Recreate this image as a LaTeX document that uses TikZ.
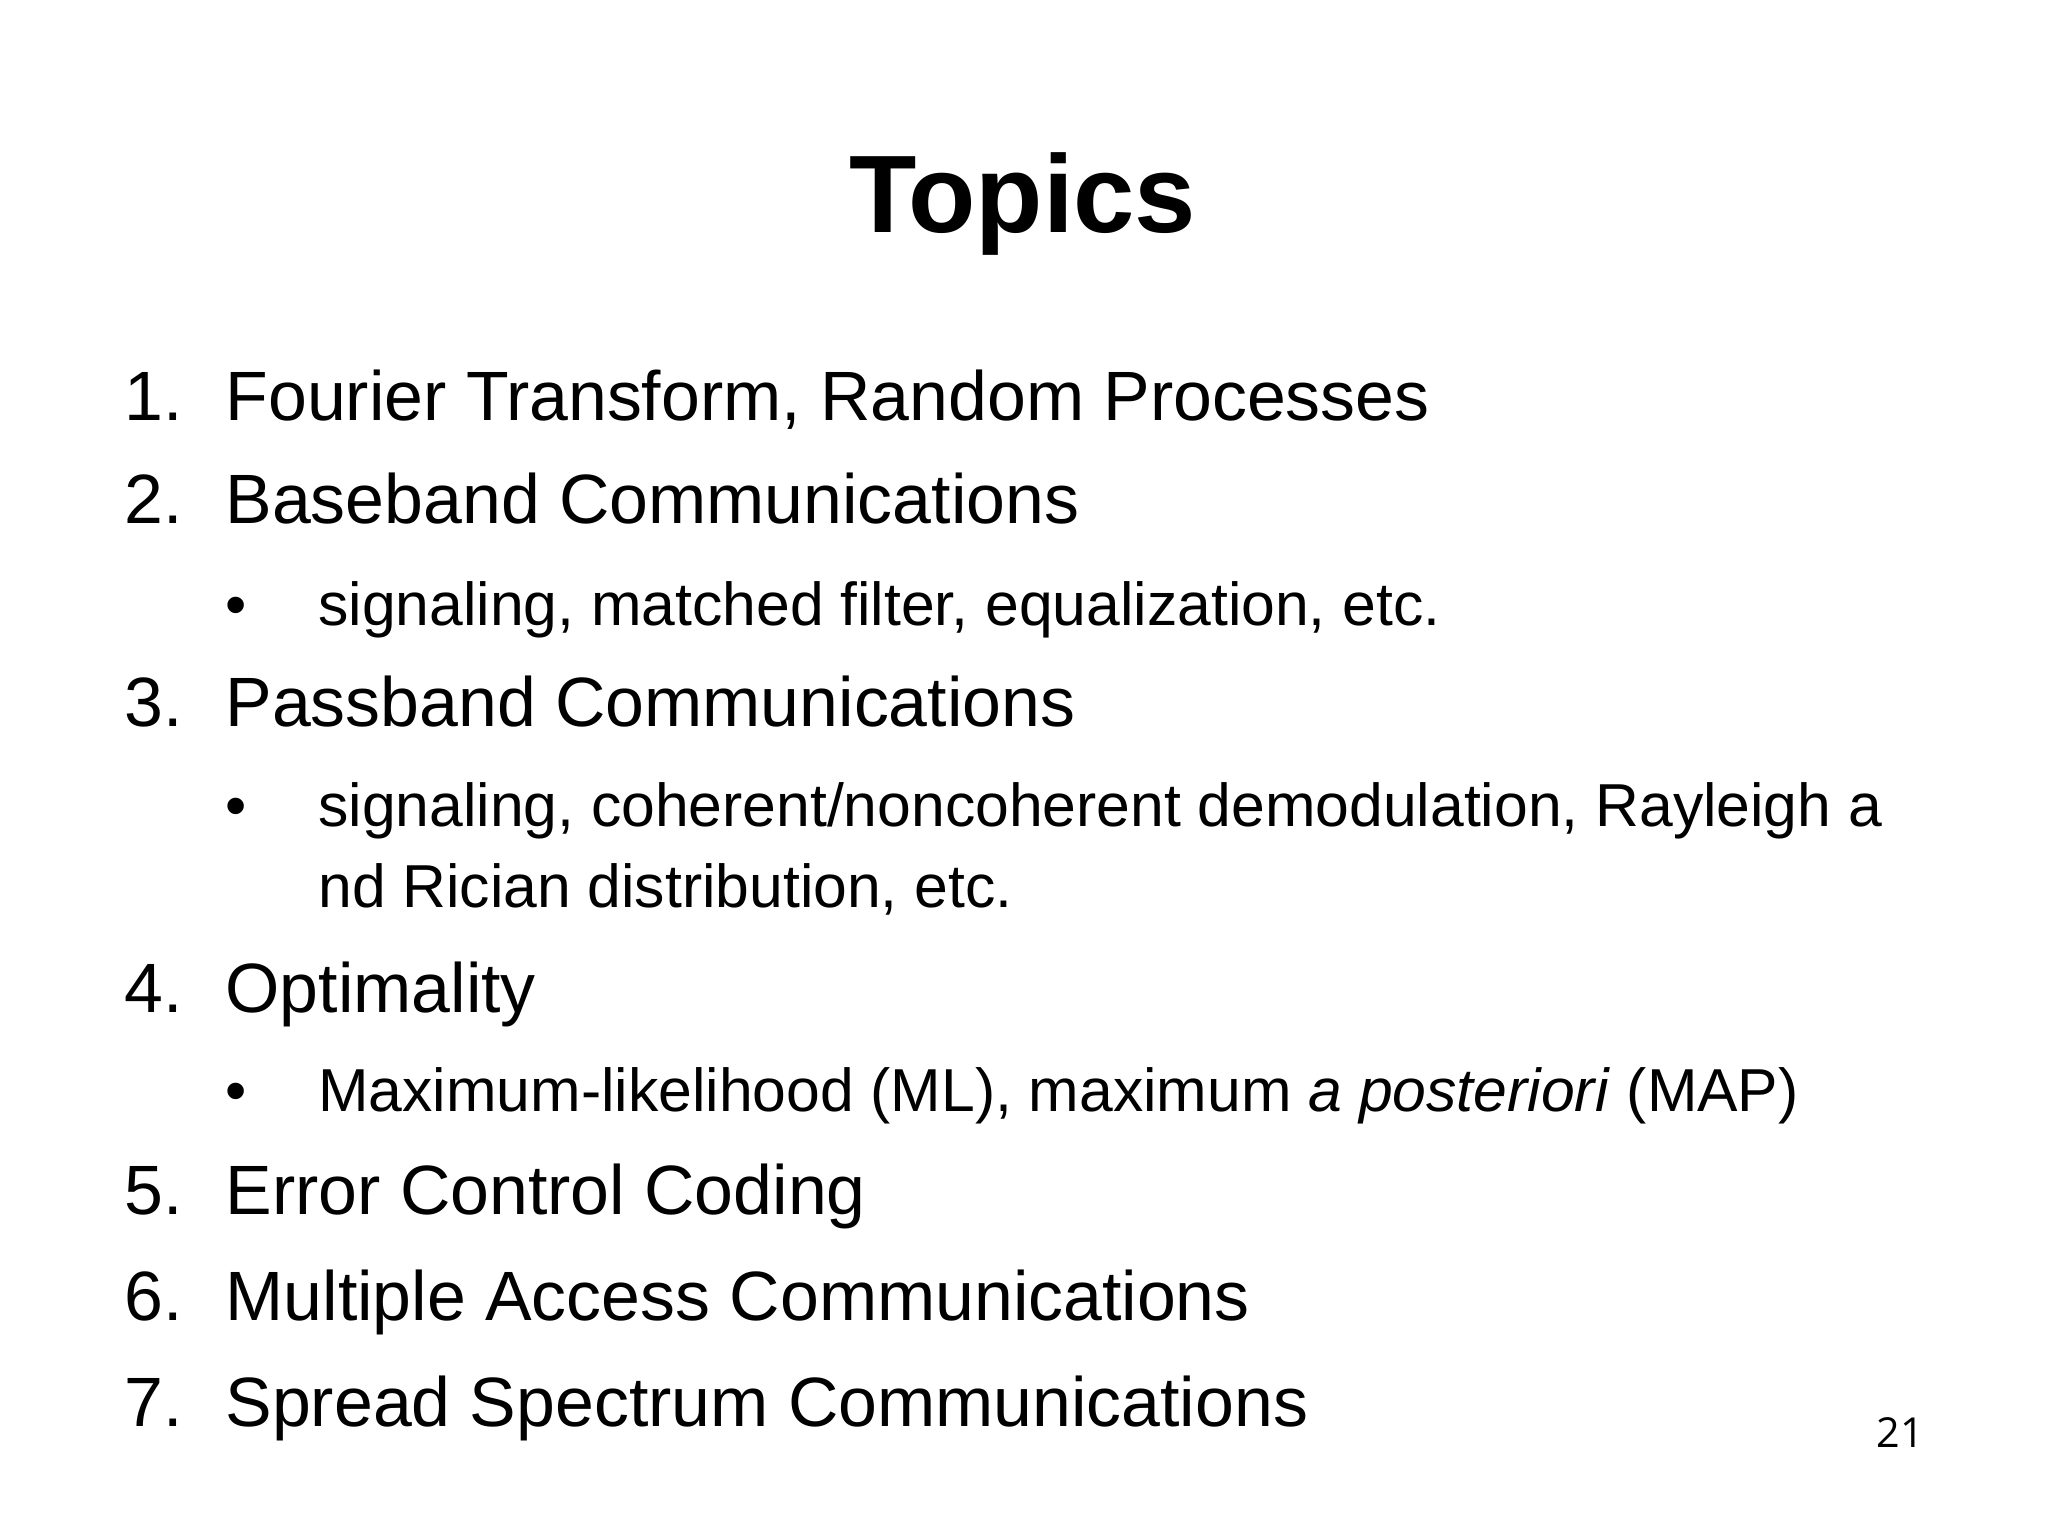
\documentclass[tikz,border=0pt]{standalone}
\usepackage{fontspec}
\setmainfont{Liberation Sans}
\newfontfamily\pgfont{Open Sans}
\begin{document}
\begin{tikzpicture}[x=0.01cm,y=-0.01cm,
  itm/.style={anchor=base west,inner sep=0pt,font=\fontsize{15.2}{18}\selectfont},
  sub/.style={anchor=base west,inner sep=0pt,font=\fontsize{13.2}{17.6}\selectfont}]
\useasboundingbox (0,0) rectangle (1568,1176);
\node[anchor=base,inner sep=0pt,font=\fontsize{24}{28}\selectfont\bfseries] (title) at (783,178) {Topics};
\foreach \n/\y/\t in {1/322/{Fourier Transform, Random Processes},2/401/{Baseband Communications},3/556/{Passband Communications},4/775/{Optimality},5/930/{Error Control Coding},6/1011/{Multiple Access Communications},7/1092/{Spread Spectrum Communications}}{
  \node[itm] (n\n) at (95,\y) {\n.};
  \node[itm] (t\n) at (172,\y) {\t};
}
\foreach \k/\y/\t in {a/479/{signaling, matched filter, equalization, etc.},b/633/{signaling, coherent/noncoherent demodulation, Rayleigh a},d/851/{Maximum-likelihood (ML), maximum \textit{a posteriori} (MAP)}}{
  \node[sub] (b\k) at (172,\y) {•};
  \node[sub] (s\k) at (243,\y) {\t};
}
\node[sub] (sc) at (243,695) {nd Rician distribution, etc.};
\node[anchor=base,inner sep=0pt,font=\pgfont\fontsize{9}{11}\selectfont] (pg) at (1455,1108) {21};
\end{tikzpicture}
\end{document}
